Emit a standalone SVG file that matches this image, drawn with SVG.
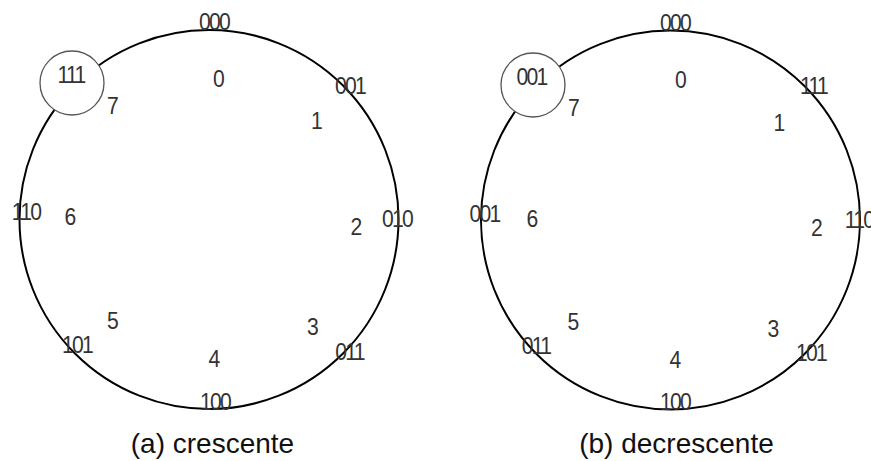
<svg xmlns="http://www.w3.org/2000/svg" width="871" height="461" viewBox="0 0 871 461">
<style>
.ring{fill:none;stroke:#000;stroke-width:2}
.node{fill:#fff;stroke:#555;stroke-width:1.3}
.lb{font-family:"Liberation Sans",Arial,sans-serif;font-size:24px;fill:#333;text-anchor:middle;letter-spacing:-2px}
.cap{font-family:"Liberation Sans",Arial,sans-serif;font-size:28px;fill:#111;text-anchor:middle}
</style>
<rect width="871" height="461" fill="#fff"/>
<g id="connectors">
<circle id="ring-a" class="ring" cx="209" cy="219.5" r="189.5"/>
<circle id="ring-b" class="ring" cx="670.5" cy="220" r="189.5"/>
</g>
<g id="diagram-a">
<g id="node-a-start"><circle class="node" cx="72" cy="83" r="32"/>
<text class="lb" transform="translate(71 83) scale(0.88 1)">111</text></g>
<g id="labels-a">
<text class="lb" transform="translate(214 30) scale(0.88 1)">000</text>
<text class="lb" transform="translate(218 87) scale(0.88 1)">0</text>
<text class="lb" transform="translate(112 114) scale(0.88 1)">7</text>
<text class="lb" transform="translate(350 94) scale(0.88 1)">001</text>
<text class="lb" transform="translate(316 129) scale(0.88 1)">1</text>
<text class="lb" transform="translate(26 220) scale(0.88 1)">110</text>
<text class="lb" transform="translate(69.5 225) scale(0.88 1)">6</text>
<text class="lb" transform="translate(355.5 235) scale(0.88 1)">2</text>
<text class="lb" transform="translate(397 227) scale(0.88 1)">010</text>
<text class="lb" transform="translate(112 329) scale(0.88 1)">5</text>
<text class="lb" transform="translate(77 353) scale(0.88 1)">101</text>
<text class="lb" transform="translate(312 335) scale(0.88 1)">3</text>
<text class="lb" transform="translate(349.5 360) scale(0.88 1)">011</text>
<text class="lb" transform="translate(213.5 367) scale(0.88 1)">4</text>
<text class="lb" transform="translate(215 410) scale(0.88 1)">100</text>
</g>
<text id="caption-a" class="cap" x="212.5" y="453">(a) crescente</text>
</g>
<g id="diagram-b">
<g id="node-b-start"><circle class="node" cx="533" cy="85" r="32"/>
<text class="lb" transform="translate(531.5 85) scale(0.88 1)">001</text></g>
<g id="labels-b">
<text class="lb" transform="translate(675 31) scale(0.88 1)">000</text>
<text class="lb" transform="translate(680 88) scale(0.88 1)">0</text>
<text class="lb" transform="translate(573 116) scale(0.88 1)">7</text>
<text class="lb" transform="translate(813.5 94) scale(0.88 1)">111</text>
<text class="lb" transform="translate(778.5 131) scale(0.88 1)">1</text>
<text class="lb" transform="translate(484.5 222) scale(0.88 1)">001</text>
<text class="lb" transform="translate(531.5 227) scale(0.88 1)">6</text>
<text class="lb" transform="translate(816 236) scale(0.88 1)">2</text>
<text class="lb" transform="translate(859 228) scale(0.88 1)">110</text>
<text class="lb" transform="translate(572.5 330) scale(0.88 1)">5</text>
<text class="lb" transform="translate(536 354) scale(0.88 1)">011</text>
<text class="lb" transform="translate(772.5 337) scale(0.88 1)">3</text>
<text class="lb" transform="translate(811 361) scale(0.88 1)">101</text>
<text class="lb" transform="translate(674.5 368) scale(0.88 1)">4</text>
<text class="lb" transform="translate(675 410) scale(0.88 1)">100</text>
</g>
<text id="caption-b" class="cap" x="676.5" y="453">(b) decrescente</text>
</g>
</svg>
